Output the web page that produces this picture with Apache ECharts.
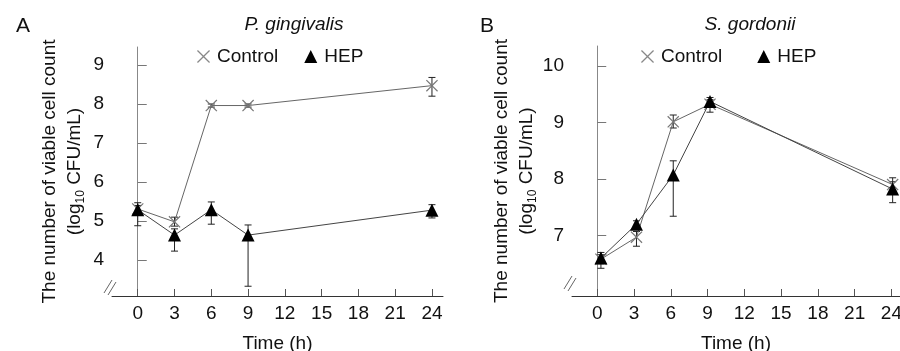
<!DOCTYPE html>
<html>
<head>
<meta charset="utf-8">
<script src="https://cdn.jsdelivr.net/npm/echarts@6/dist/echarts.min.js"></script>
<style>
html,body{margin:0;padding:0;background:#fff;}
#chart{width:900px;height:351px;}
</style>
</head>
<body>
<div id="chart"></div>
<script>
// ---- data ----
var xTicks = [0, 3, 6, 9, 12, 15, 18, 21, 24];
var yTicksA = [4, 5, 6, 7, 8, 9];
var yTicksB = [7, 8, 9, 10];

var timeA = [0, 3, 6, 9, 24];
var ctrlA = [5.31, 4.98, 7.96, 7.96, 8.47];
var ctrlALow = [5.22, 4.87, 7.92, 7.92, 8.2];
var ctrlAHigh = [5.40, 5.10, 8.00, 8.00, 8.68];
var hepA = [5.29, 4.64, 5.29, 4.64, 5.28];
var hepALow = [4.88, 4.23, 4.92, 3.33, 5.08];
var hepAHigh = [5.47, 4.80, 5.49, 4.90, 5.42];

var timeB = [0.3, 3.2, 6.2, 9.2, 24.1];
var ctrlB = [6.58, 6.97, 9.01, 9.32, 7.90];
var ctrlBLow = [6.50, 6.81, 8.90, 9.18, 7.80];
var ctrlBHigh = [6.66, 7.07, 9.13, 9.40, 8.02];
var hepB = [6.60, 7.20, 8.07, 9.37, 7.82];
var hepBLow = [6.42, 7.14, 7.34, 9.30, 7.58];
var hepBHigh = [6.70, 7.26, 8.32, 9.44, 7.95];

var seriesNames = ['Control', 'HEP'];
var titlesTop = ['P. gingivalis', 'S. gordonii'];
var panelLetters = ['A', 'B'];
var yName = 'The number of viable cell count';
var xName = 'Time (h)';

// ---- chart ----
var FONT = 'Liberation Sans, Arial, sans-serif';
var xMark = 'path://M0,0.7L0.7,0L5,4.3L9.3,0L10,0.7L5.7,5L10,9.3L9.3,10L5,5.7L0.7,10L0,9.3L4.3,5Z';

function pairs(t, v) { return t.map(function (x, i) { return [x, v[i]]; }); }
function errData(t, lo, hi) { return t.map(function (x, i) { return [x, lo[i], hi[i]]; }); }

function errRender(params, api) {
  var x = api.value(0);
  var top = api.coord([x, api.value(2)]);
  var bot = api.coord([x, api.value(1)]);
  var w = 3.5;
  var st = { stroke: '#222', lineWidth: 1 };
  return {
    type: 'group',
    children: [
      { type: 'line', shape: { x1: top[0], y1: top[1], x2: bot[0], y2: bot[1] }, style: st },
      { type: 'line', shape: { x1: top[0] - w, y1: top[1], x2: top[0] + w, y2: top[1] }, style: st },
      { type: 'line', shape: { x1: bot[0] - w, y1: bot[1], x2: bot[0] + w, y2: bot[1] }, style: st }
    ]
  };
}

function xAxisCfg(gi, min, max) {
  return {
    type: 'value', gridIndex: gi, min: min, max: max,
    name: xName, nameLocation: 'middle', nameGap: 38,
    nameTextStyle: { fontFamily: FONT, fontSize: 19, color: '#111' },
    axisLine: { lineStyle: { color: '#333', width: 1 } },
    axisTick: { inside: true, length: 7, customValues: xTicks, lineStyle: { color: '#555' } },
    axisLabel: { customValues: xTicks, fontFamily: FONT, fontSize: 19, color: '#111', margin: 8 },
    splitLine: { show: false }
  };
}
function yAxisCfg(gi, min, max, ticks) {
  return {
    type: 'value', gridIndex: gi, min: min, max: max,
    name: '{a|' + yName + '}\n{a|(log}{s|10}{a| CFU/mL)}',
    nameLocation: 'middle', nameGap: 25,
    nameTextStyle: {
      rich: {
        a: { fontFamily: FONT, fontSize: 19, color: '#111', lineHeight: 25 },
        s: { fontFamily: FONT, fontSize: 12, color: '#111', padding: [12, 0, 0, 0] }
      }
    },
    axisLine: { show: true, lineStyle: { color: '#888', width: 1 } },
    axisTick: { show: true, inside: true, length: 9, customValues: ticks, lineStyle: { color: '#777' } },
    axisLabel: { customValues: ticks, fontFamily: FONT, fontSize: 19, color: '#111', margin: 8 },
    splitLine: { show: false }
  };
}

function legendCfg(left, gap) {
  return {
    left: left, top: 42, orient: 'horizontal', itemGap: gap,
    itemWidth: 13, itemHeight: 13,
    textStyle: { fontFamily: FONT, fontSize: 19, color: '#111', padding: [0, 0, 0, 2] },
    data: [
      { name: seriesNames[0], icon: xMark, itemStyle: { color: '#888' } },
      { name: seriesNames[1], icon: 'triangle', itemStyle: { color: '#000' } }
    ]
  };
}

function lineSeries(name, gi, t, v, isCtrl, id) {
  return {
    type: 'line', name: name, id: id, xAxisIndex: gi, yAxisIndex: gi,
    data: pairs(t, v),
    symbol: isCtrl ? xMark : 'triangle',
    symbolSize: isCtrl ? 12 : 13,
    itemStyle: { color: isCtrl ? '#777' : '#000' },
    lineStyle: { color: isCtrl ? '#666' : '#444', width: 1 },
    z: isCtrl ? 3 : 4,
    animation: false
  };
}
function errSeries(name, gi, t, lo, hi) {
  return {
    type: 'custom', name: name, xAxisIndex: gi, yAxisIndex: gi,
    data: errData(t, lo, hi), encode: { x: 0, y: [1, 2] },
    renderItem: errRender, z: 2, silent: true, animation: false
  };
}

var chart = echarts.init(document.getElementById('chart'), null, { renderer: 'canvas' });
var gridA = { left: 112, right: 457, top: 47, bottom: 55, outerBoundsMode: 'none', containLabel: false };
var gridB = { left: 572, right: 0, top: 46, bottom: 55, outerBoundsMode: 'none', containLabel: false };

function breakMarks(cx, cy) {
  var st = { stroke: '#666', lineWidth: 1 };
  return [
    { type: 'line', shape: { x1: cx - 7, y1: cy + 7, x2: cx + 1, y2: cy - 6 }, style: st, z: 10 },
    { type: 'line', shape: { x1: cx - 3, y1: cy + 9, x2: cx + 5, y2: cy - 4 }, style: st, z: 10 }
  ];
}

var option = {
  animation: false,
  backgroundColor: '#fff',
  title: [
    { text: panelLetters[0], left: 11, top: 11, textStyle: { fontFamily: FONT, fontSize: 21, fontWeight: 'normal', color: '#111' } },
    { text: panelLetters[1], left: 475, top: 11, textStyle: { fontFamily: FONT, fontSize: 21, fontWeight: 'normal', color: '#111' } },
    { text: titlesTop[0], left: 289, textAlign: 'center', top: 10, textStyle: { fontFamily: FONT, fontSize: 19, fontStyle: 'italic', fontWeight: 'normal', color: '#111' } },
    { text: titlesTop[1], left: 745, textAlign: 'center', top: 10, textStyle: { fontFamily: FONT, fontSize: 19, fontStyle: 'italic', fontWeight: 'normal', color: '#111' } }
  ],
  legend: [legendCfg(192, 26), legendCfg(636, 35)],
  grid: [gridA, gridB],
  xAxis: [xAxisCfg(0, -2.1, 24.9), xAxisCfg(1, -2.06, 24.7)],
  yAxis: [yAxisCfg(0, 3.08, 9.46, yTicksA), yAxisCfg(1, 5.93, 10.35, yTicksB)],
  series: [
    errSeries(seriesNames[0], 0, timeA, ctrlALow, ctrlAHigh),
    errSeries(seriesNames[1], 0, timeA, hepALow, hepAHigh),
    lineSeries(seriesNames[0], 0, timeA, ctrlA, true, 'ca'),
    lineSeries(seriesNames[1], 0, timeA, hepA, false, 'ha'),
    errSeries(seriesNames[0], 1, timeB, ctrlBLow, ctrlBHigh),
    errSeries(seriesNames[1], 1, timeB, hepBLow, hepBHigh),
    lineSeries(seriesNames[0], 1, timeB, ctrlB, true, 'cb'),
    lineSeries(seriesNames[1], 1, timeB, hepB, false, 'hb')
  ],
  graphic: [].concat(breakMarks(111, 286), breakMarks(571, 282))
};
chart.setOption(option);
</script>
</body>
</html>
